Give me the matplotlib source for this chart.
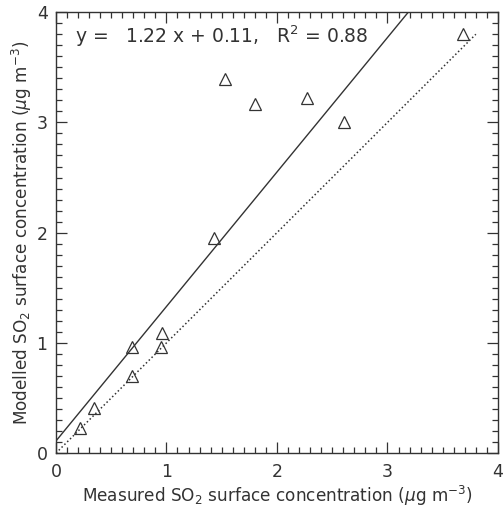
import numpy as np
import matplotlib
matplotlib.use('Agg')
import matplotlib.pyplot as plt

plt.rcParams['font.family'] = ['DejaVu Sans']
plt.rcParams['mathtext.fontset'] = 'dejavusans'

# Data
measured = [0.22, 0.34, 0.69, 0.69, 0.96, 0.95, 1.43, 1.53, 1.80, 2.27, 2.61, 3.68]
modelled = [0.23, 0.41, 0.96, 0.70, 1.09, 0.96, 1.95, 3.39, 3.17, 3.22, 3.00, 3.80]
slope, intercept, r2 = 1.22, 0.11, 0.88
ticks = [0, 1, 2, 3, 4]

ink = '#333333'

fig = plt.figure(figsize=(5.04, 5.08), dpi=100)
ax = fig.add_axes([0.111, 0.108, 0.877, 0.868])

# regression line over the full axis width
xfit = np.array([0, 4])
ax.plot(xfit, slope * xfit + intercept, color=ink, lw=1.0, solid_capstyle='butt')

# 1:1 line up to the largest value
xone = np.array([0, max(modelled)])
ax.plot(xone, xone, color=ink, lw=1.1, linestyle=(0, (1, 1.6)))

ax.plot(measured, modelled, linestyle='none', marker='^', markersize=8.5,
        markerfacecolor='none', markeredgecolor=ink, markeredgewidth=0.9)

ax.set_xlim(0, 4)
ax.set_ylim(0, 4)
ax.set_xticks(ticks)
ax.set_yticks(ticks)
ax.set_xticks(np.arange(0, 4.01, 0.1), minor=True)
ax.set_yticks(np.arange(0, 4.01, 0.1), minor=True)
ax.tick_params(which='both', direction='in', top=True, right=True, colors=ink,
               labelsize=12.5, width=0.9)
ax.tick_params(which='major', length=8)
ax.tick_params(which='minor', length=4)
ax.tick_params(axis='x', pad=7)
ax.tick_params(axis='y', pad=6)
for s in ax.spines.values():
    s.set_color(ink)
    s.set_linewidth(1.0)

ax.set_xlabel(r'Measured SO$_2$ surface concentration ($\mu$g m$^{-3}$)',
              fontsize=12.2, color=ink, labelpad=2.5)
ax.set_ylabel(r'Modelled SO$_2$ surface concentration ($\mu$g m$^{-3}$)',
              fontsize=12.2, color=ink, labelpad=2)

ax.text(0.043, 0.946, f'y =   {slope:.2f} x + {intercept:.2f},   R$^2$ = {r2:.2f}',
        transform=ax.transAxes, fontsize=13.5, color=ink, va='center', ha='left')

fig.savefig('out.png', dpi=100)
